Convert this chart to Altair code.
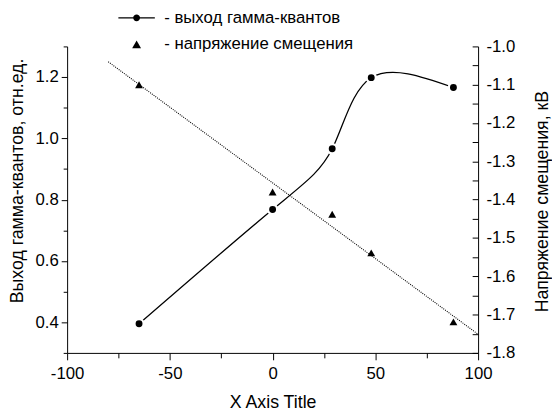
import altair as alt
import pandas as pd

# ---- data ----
x_positions = [-65, 0, 29, 48, 88]
gamma_yield = [0.395, 0.768, 0.966, 1.198, 1.166]
bias_voltage = [-1.100, -1.380, -1.438, -1.539, -1.719]
fit_extent = [-80, 100]

legend_labels = ["- выход гамма-квантов", "- напряжение смещения"]

x_ticks = [-100, -75, -50, -25, 0, 25, 50, 75, 100]
left_ticks = [0.3, 0.4, 0.5, 0.6, 0.7, 0.8, 0.9, 1.0, 1.1, 1.2, 1.3]
right_ticks = [-1.8, -1.75, -1.7, -1.65, -1.6, -1.55, -1.5, -1.45, -1.4,
               -1.35, -1.3, -1.25, -1.2, -1.15, -1.1, -1.05, -1.0]

x_title = "X Axis Title"
left_title = "Выход гамма-квантов, отн.ед."
right_title = "Напряжение смещения, кВ"

df = pd.DataFrame({"x": x_positions, "g": gamma_yield, "v": bias_voltage})
legend_df = pd.DataFrame({"label": legend_labels})

FONT = "Liberation Sans"
MINUS = "\u2212"

x_major = "datum.value % 50 == 0"
left_major = "round(datum.value * 10) % 2 == 0"
right_major = "round(datum.value * 100) % 10 == 0"

x_enc = alt.X(
    "x:Q",
    scale=alt.Scale(domain=[-100, 100], nice=False, zero=False),
    axis=alt.Axis(
        values=x_ticks, format="d",
        labelExpr=f"{x_major} ? replace(datum.label, '{MINUS}', '-') : ''",
        tickSize={"condition": {"test": x_major, "value": 7}, "value": 5},
        labelPadding=6, labelFlush=False, labelOverlap=False,
        title=x_title, titleY=55, titleBaseline="alphabetic",
    ),
)

left_y = alt.Y(
    "g:Q",
    scale=alt.Scale(domain=[0.3, 1.3], nice=False, zero=False),
    axis=alt.Axis(
        orient="left", values=left_ticks, format=".1f",
        labelExpr=f"{left_major} ? datum.label : ''",
        tickSize={"condition": {"test": left_major, "value": 6}, "value": 4},
        labelPadding=3, labelOverlap=False,
        title=left_title, titleAngle=270, titleX=-45, titleY=136,
        titleAlign="center", titleBaseline="alphabetic",
    ),
)

right_scale = alt.Scale(domain=[-1.8, -1.0], nice=False, zero=False)

right_ticks_axis = alt.Axis(
    orient="right", values=right_ticks, offset=-6, domain=False,
    labels=False, ticks=True, tickSize=6, title=None,
)
right_label_axis = alt.Axis(
    orient="right", values=right_ticks, format=".1f", ticks=False, tickSize=0,
    labelExpr=f"{right_major} ? replace(datum.label, '{MINUS}', '-') : ''",
    labelPadding=8, labelOverlap=False,
    title=right_title, titleAngle=270, titleX=70, titleY=157,
    titleAlign="center", titleBaseline="alphabetic",
)

circle_line_path = (
    "M-3.7,-0.12L-0.5,-0.12L-0.5,0.12L-3.7,0.12Z"
    "M0.5,-0.12L3.7,-0.12L3.7,0.12L0.5,0.12Z"
    "M-0.7,0A0.7,0.7,0,1,1,0.7,0A0.7,0.7,0,1,1,-0.7,0Z"
)
triangle_path = "M0,-0.78L0.9,0.75L-0.9,0.75Z"

base = alt.Chart(df)

curve = base.mark_line(interpolate="natural", color="black", strokeWidth=1.3).encode(x=x_enc, y=left_y)
circles = base.mark_point(
    shape="circle", filled=True, fill="black", stroke="white",
    strokeWidth=2.4, size=88, opacity=1,
).encode(x=x_enc, y=left_y)

legend_layer = alt.Chart(legend_df).mark_point(
    filled=True, fill="black", opacity=0,
).encode(
    shape=alt.Shape(
        "label:N",
        scale=alt.Scale(domain=legend_labels, range=[circle_line_path, triangle_path]),
        legend=alt.Legend(
            title=None, orient="none", legendX=62, legendY=-37.5,
            direction="vertical", symbolSize=100, symbolOpacity=1,
            symbolFillColor="black", symbolStrokeWidth=0,
            labelFont=FONT, labelFontSize=17, labelLimit=400,
            labelColor="black", labelOffset=19.5, rowPadding=9, padding=0,
        ),
    )
)

fit = alt.Chart(df).transform_regression(
    "x", "v", extent=fit_extent
).mark_line(color="black", strokeWidth=1.1, strokeDash=[1, 1.2]).encode(
    x=x_enc, y=alt.Y("v:Q", scale=right_scale, axis=right_ticks_axis)
)
triangles = base.mark_point(
    shape="triangle-up", filled=True, fill="black", size=64, opacity=1,
).encode(x=x_enc, y=alt.Y("v:Q", scale=right_scale, axis=right_label_axis))

left_part = alt.layer(curve, circles, legend_layer)
right_part = alt.layer(fit, triangles).resolve_axis(y="independent")

chart = alt.layer(left_part, right_part).resolve_scale(y="independent").properties(
    width=417, height=311,
    autosize=alt.AutoSizeParams(type="none"),
    padding={"left": 60, "top": 36, "right": 75, "bottom": 59},
).configure_view(stroke=None).configure_axis(
    labelFont=FONT, labelFontSize=17, labelColor="black",
    titleFont=FONT, titleFontSize=18, titleFontWeight="normal", titleColor="black",
    domainColor="black", tickColor="black", domainWidth=1, tickWidth=1, grid=False,
)

chart.save("out.html", embed_options={"renderer": "svg", "actions": False})
